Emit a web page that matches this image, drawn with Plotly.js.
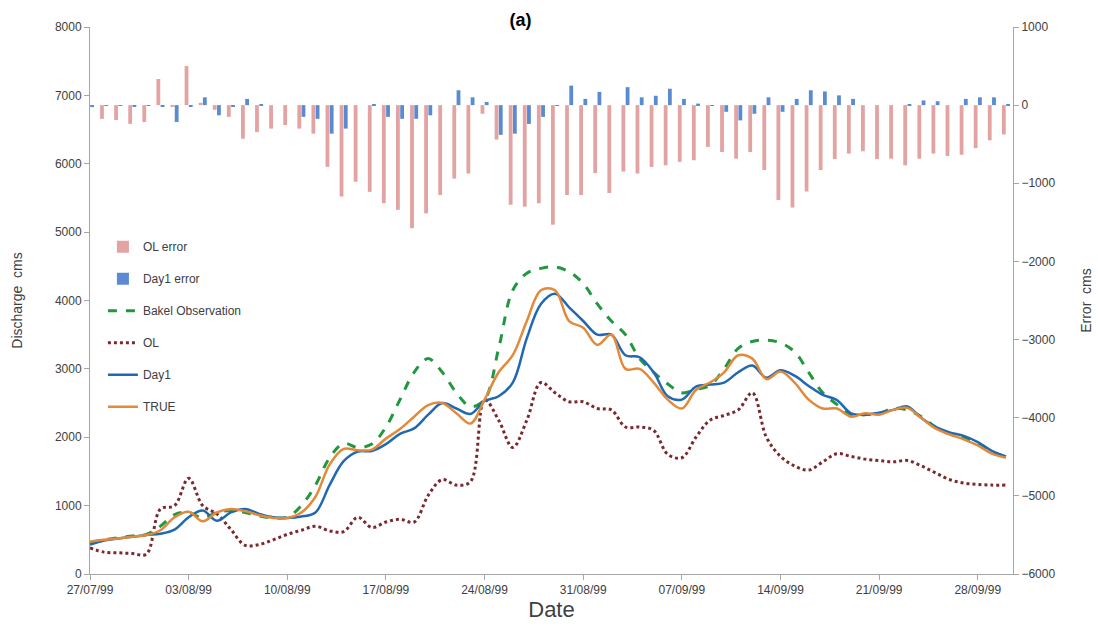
<!DOCTYPE html>
<html>
<head>
<meta charset="utf-8">
<script src="https://cdn.plot.ly/plotly-3.0.1.min.js"></script>
<style>html,body{margin:0;padding:0;background:#fff;}#chart{width:1098px;height:627px;}</style>
</head>
<body>
<div id="chart"></div>
<script>
const dates = [
"1999-07-27","1999-07-28","1999-07-29","1999-07-30","1999-07-31",
"1999-08-01","1999-08-02","1999-08-03","1999-08-04","1999-08-05","1999-08-06","1999-08-07","1999-08-08","1999-08-09","1999-08-10",
"1999-08-11","1999-08-12","1999-08-13","1999-08-14","1999-08-15","1999-08-16","1999-08-17","1999-08-18","1999-08-19","1999-08-20",
"1999-08-21","1999-08-22","1999-08-23","1999-08-24","1999-08-25","1999-08-26","1999-08-27","1999-08-28","1999-08-29","1999-08-30","1999-08-31",
"1999-09-01","1999-09-02","1999-09-03","1999-09-04","1999-09-05","1999-09-06","1999-09-07","1999-09-08","1999-09-09","1999-09-10",
"1999-09-11","1999-09-12","1999-09-13","1999-09-14","1999-09-15","1999-09-16","1999-09-17","1999-09-18","1999-09-19","1999-09-20",
"1999-09-21","1999-09-22","1999-09-23","1999-09-24","1999-09-25","1999-09-26","1999-09-27","1999-09-28","1999-09-29","1999-09-30"];

const olError = [-20,-175,-190,-240,-215,335,-20,500,30,-60,-150,-430,-345,-300,-255,-300,-365,-790,-1170,-980,-1110,-1255,-1340,-1575,-1385,-1150,-940,-875,-110,-440,-1275,-1300,-1255,-1530,-1150,-1150,-870,-1125,-850,-875,-790,-770,-725,-705,-535,-600,-685,-600,-830,-1215,-1310,-1105,-830,-690,-620,-590,-690,-685,-770,-685,-620,-650,-635,-550,-450,-375];
const day1Error = [-25,-10,-10,-20,-10,-20,-215,-20,100,-130,-20,80,10,0,0,-150,-175,-365,-300,0,10,-150,-175,-175,-130,0,190,100,40,-380,-365,-240,-150,-10,250,80,170,0,230,100,120,210,80,20,-10,-85,-195,-110,100,-85,80,190,175,125,80,0,0,0,10,60,50,0,80,100,100,10];

const bakelObs = [460,500,530,555,580,700,870,900,820,900,930,900,850,820,830,1000,1300,1700,1910,1850,1900,2150,2550,2950,3150,2950,2650,2450,2550,3300,4150,4400,4470,4490,4420,4250,3950,3700,3500,3150,2950,2780,2650,2700,2760,3000,3300,3400,3420,3380,3250,2950,2650,2480,2330,2330,2350,2420,2400,2300,2150,2050,2000,1900,1780,1720];
const olSim = [380,320,310,300,290,950,1000,1400,1000,880,650,420,430,500,580,640,700,630,620,830,680,760,800,760,1150,1380,1300,1350,2550,2250,1850,2250,2800,2650,2520,2520,2420,2400,2150,2150,2100,1750,1700,2000,2250,2320,2400,2650,2000,1720,1580,1520,1640,1760,1720,1680,1660,1640,1660,1580,1480,1380,1330,1310,1300,1300];
const day1Sim = [430,490,520,545,570,590,650,830,930,780,900,950,880,830,820,840,900,1300,1650,1790,1800,1900,2050,2130,2330,2500,2420,2340,2530,2600,2800,3450,3950,4100,3900,3700,3500,3500,3200,3170,2950,2600,2550,2740,2770,2800,2950,3050,2870,2980,2900,2750,2620,2545,2350,2330,2360,2400,2450,2280,2150,2070,2020,1930,1800,1720];
const trueQ = [470,500,520,545,570,640,830,910,770,900,950,920,860,820,820,900,1130,1600,1830,1810,1820,1980,2120,2300,2470,2500,2350,2200,2550,2950,3200,3700,4150,4150,3700,3600,3350,3500,3000,3000,2800,2550,2420,2690,2800,2950,3200,3150,2850,2960,2800,2550,2420,2420,2300,2350,2330,2400,2430,2280,2130,2040,1970,1880,1760,1700];

const tickDates = ["1999-07-27","1999-08-03","1999-08-10","1999-08-17","1999-08-24","1999-08-31","1999-09-07","1999-09-14","1999-09-21","1999-09-28"];
const tickText = ["27/07/99","03/08/99","10/08/99","17/08/99","24/08/99","31/08/99","07/09/99","14/09/99","21/09/99","28/09/99"];

const fnt = "Liberation Sans, Arial, sans-serif";
const data = [
  {type:'bar', name:'OL error', x:dates, y:olError, yaxis:'y', marker:{color:'#E3A3A3'}, legendgroup:'a'},
  {type:'bar', name:'Day1 error', x:dates, y:day1Error, yaxis:'y', marker:{color:'#5A8AD0'}, legendgroup:'b'},
  {type:'scatter', mode:'lines', name:'Bakel Observation', x:dates, y:bakelObs, yaxis:'y2', line:{color:'#22973F', width:3, dash:'dash', shape:'spline'}, legendgroup:'c'},
  {type:'scatter', mode:'lines', name:'OL', x:dates, y:olSim, yaxis:'y2', line:{color:'#7A2A2E', width:3, dash:'dot', shape:'spline'}, legendgroup:'d'},
  {type:'scatter', mode:'lines', name:'Day1', x:dates, y:day1Sim, yaxis:'y2', line:{color:'#1F68B3', width:2.5, shape:'spline'}, legendgroup:'e'},
  {type:'scatter', mode:'lines', name:'TRUE', x:dates, y:trueQ, yaxis:'y2', line:{color:'#E2893A', width:2.5, shape:'spline'}, legendgroup:'f'}
];

const layout = {
  width:1098, height:627,
  margin:{l:90, r:85, t:27, b:53},
  paper_bgcolor:'#fff', plot_bgcolor:'#fff',
  font:{family:fnt, size:12, color:'#404040'},
  title:{text:'<b>(a)</b>', font:{family:fnt, size:18, color:'#000'}, x:0.474, xanchor:'center', y:0.968, yanchor:'middle'},
  barmode:'group', bargap:0.4, bargroupgap:0.1,
  showlegend:true,
  legend:{x:0.014, y:0.625, xanchor:'left', yanchor:'top', bgcolor:'rgba(255,255,255,0)', font:{family:fnt, size:12, color:'#404040'}, tracegroupgap:13, traceorder:'grouped'},
  xaxis:{type:'date', range:['1999-07-27','1999-09-30 12:00'], tickvals:tickDates, ticktext:tickText,
    showline:true, linecolor:'#A6A6A6', linewidth:1, ticks:'outside', ticklen:5, tickcolor:'#A6A6A6',
    showgrid:false, zeroline:false, tickfont:{family:fnt, size:12, color:'#404040'},
    title:{text:'Date', font:{family:fnt, size:22, color:'#404040'}, standoff:4}},
  yaxis:{side:'right', range:[-6000,1000], dtick:1000, showline:true, linecolor:'#A6A6A6', linewidth:1,
    ticks:'outside', ticklen:5, tickcolor:'#A6A6A6', showgrid:false, zeroline:false,
    tickfont:{family:fnt, size:12, color:'#404040'},
    title:{text:'Error  cms', font:{family:fnt, size:14, color:'#404040'}, standoff:26}},
  yaxis2:{side:'left', overlaying:'y', range:[0,8000], dtick:1000, showline:true, linecolor:'#A6A6A6', linewidth:1,
    ticks:'outside', ticklen:5, tickcolor:'#A6A6A6', showgrid:false, zeroline:false,
    tickfont:{family:fnt, size:12, color:'#404040'},
    title:{text:'Discharge  cms', font:{family:fnt, size:14, color:'#404040'}, standoff:28}}
};

Plotly.newPlot('chart', data, layout, {displayModeBar:false, responsive:false});
</script>
</body>
</html>
